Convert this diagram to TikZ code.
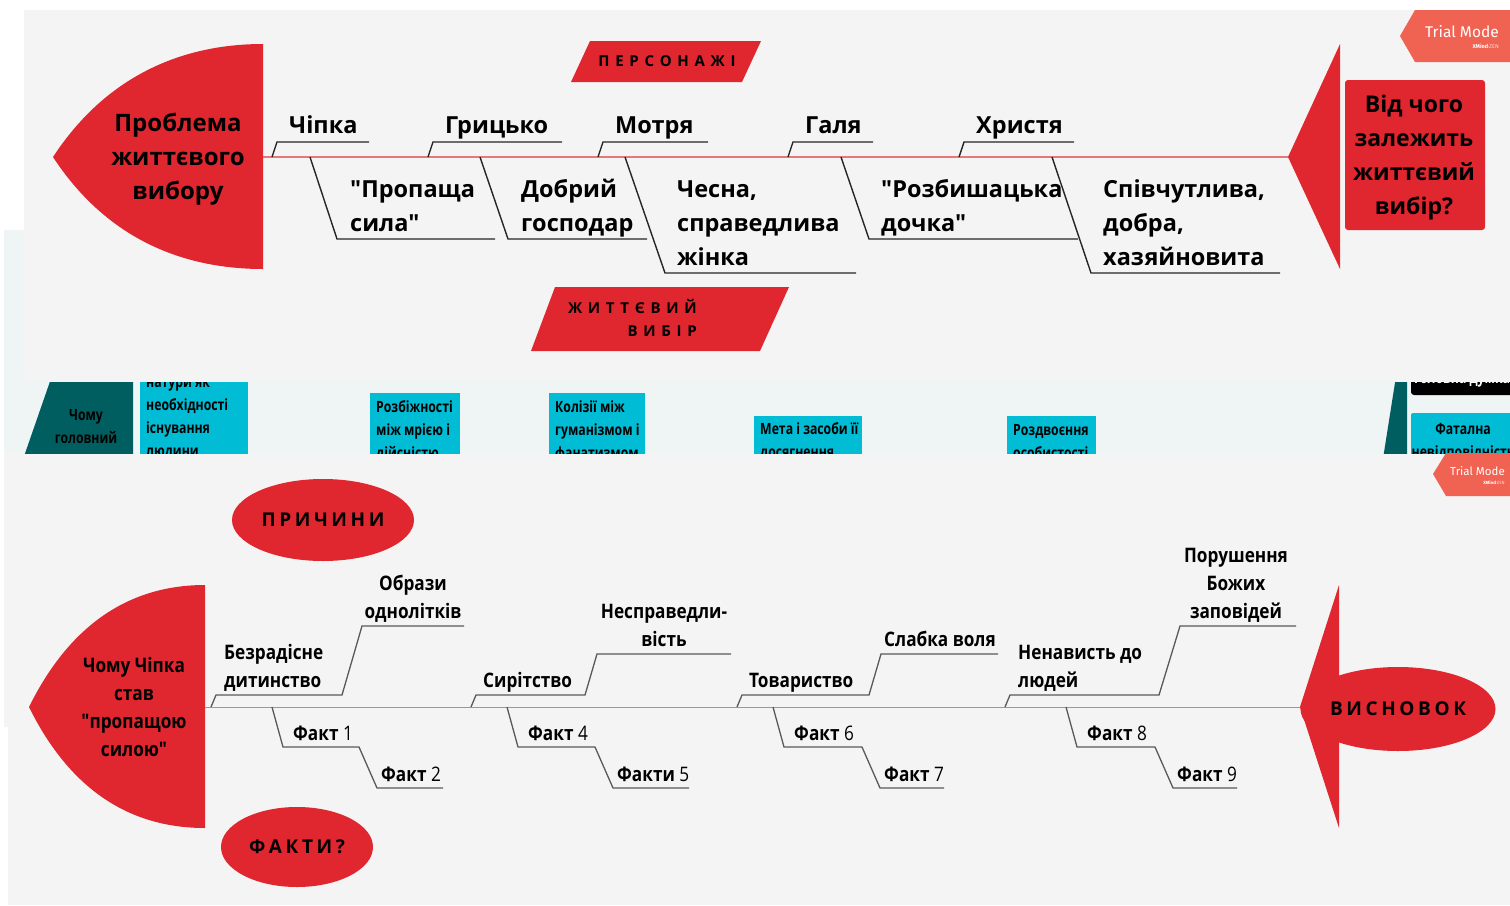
\documentclass[tikz,border=0pt]{standalone}
\usepackage{fontspec}
\setmainfont{Open Sans}[Ligatures=TeXOff]
\newfontfamily\condfont[FakeStretch=0.86]{Open Sans}
\newfontfamily\narrowfont[FakeStretch=0.79]{Open Sans}
\newfontfamily\trialfont{Fira Sans}
\usetikzlibrary{shapes.geometric}
\definecolor{fishred}{RGB}{224,38,46}
\definecolor{spinered}{RGB}{232,120,120}
\definecolor{panelgray}{RGB}{244,244,244}
\definecolor{panelblue}{RGB}{239,244,244}
\definecolor{tealdark}{RGB}{0,94,96}
\definecolor{topiccyan}{RGB}{0,188,212}
\definecolor{trialcoral}{RGB}{240,98,82}
\tikzset{headtxt/.style={font=\bfseries\fontsize{24}{34}\selectfont, align=center, inner sep=0},
         lbl/.style={font=\bfseries\fontsize{23.5}{34}\selectfont, align=left, inner sep=0, anchor=base west},
         blbl/.style={font=\condfont\bfseries\fontsize{20}{28}\selectfont, align=left, inner sep=0, anchor=base west},
         mid/.style={font=\narrowfont\bfseries\fontsize{15.5}{23}\selectfont, align=left, inner sep=0, anchor=west},
         spine/.style={draw=spinered, line width=1.6pt},
         bone/.style={draw=black!85, line width=1.4pt},
         fbone/.style={draw=black!65, line width=1.3pt},
         banner/.style={font=\bfseries\fontsize{15}{23}\selectfont\setlength{\spaceskip}{5.7pt}, align=right, inner sep=0, anchor=east},
         ell/.style={ellipse, fill=fishred, inner sep=0},
         elltxt/.style={font=\bfseries\fontsize{19}{20}\selectfont\setlength{\spaceskip}{3.6pt}},
         trialtxt/.style={text=white, inner sep=0, anchor=east}}
\begin{document}
\begin{tikzpicture}[x=1pt,y=-1pt]
\useasboundingbox (0,0) rectangle (1510,905);
% panels
\fill[white] (0,0) rectangle (1510,905);
\fill[panelblue] (4,230) rectangle (1510,453);
\fill[panelgray] (24,10) rectangle (1510,382);
\fill[panelgray] (4,453) rectangle (1510,727);
\fill[panelgray] (8,727) rectangle (1510,905);

% cut strip of the second map
\begin{scope}
\clip (4,382) rectangle (1510,453);
\fill[tealdark] (54,370) -- (133,370) -- (133,465) -- (21,465) -- cycle;
\node[mid, anchor=center, align=center] (why) at (86,427) {Чому\\головний};
\fill[topiccyan] (140,360) rectangle (248,470);
\node[mid] (nat) at (146,419) {натури як\\необхідності\\існування\\людини};
\fill[topiccyan] (370,393) rectangle (460,470);
\node[mid] (rozb) at (376,431) {Розбіжності\\між мрією і\\дійсністю};
\fill[topiccyan] (549,393) rectangle (645,470);
\node[mid] (kol) at (555,431) {Колізії між\\гуманізмом і\\фанатизмом};
\fill[topiccyan] (754,416) rectangle (862,470);
\node[mid] (meta) at (760,442) {Мета і засоби її\\досягнення};
\fill[topiccyan] (1007,416) rectangle (1096,470);
\node[mid] (rozd) at (1013,442) {Роздвоєння\\особистості};
\fill[tealdark] (1397,370) -- (1407,370) -- (1407,465) -- (1382,465) -- cycle;
\fill[black, rounded corners=3pt] (1411,350) rectangle (1530,395);
\node[mid, text=white, anchor=center] (dumka) at (1462,380) {Головна думка};
\fill[topiccyan, rounded corners=2pt] (1411,413) rectangle (1530,470);
\node[mid, anchor=center, align=center] (fat) at (1463,442) {Фатална\\невідповідність};
\end{scope}

% upper fishbone
\fill[fishred] (263,44) -- (263,269) .. controls (190,269) and (110,244) .. (53,157)
  .. controls (110,70) and (190,44) .. (263,44) -- cycle;
\node[headtxt] (prob) at (178,159) {Проблема\\життєвого\\вибору};
\coordinate (head) at (263,157);
\coordinate (tail) at (1288,157);
\draw[spine] (head) -- (tail);
\fill[fishred] (tail) -- (1340,44) -- (1340,269) -- cycle;
\node[fill=fishred, rounded corners=3pt, minimum width=140, minimum height=150] (vid) at (1415,155) {};
\node[headtxt, font=\bfseries\fontsize{23}{34}\selectfont] (vidtxt) at (1414,158) {Від чого\\залежить\\життєвий\\вибір?};

\fill[fishred] (590,41) -- (761,41) -- (742,82) -- (571,82) -- cycle;
\node[banner, anchor=center] (pers) at (667,61) {П Е Р С О Н А Ж І};
\fill[fishred] (555,287) -- (789,287) -- (760,351) -- (531,351) -- cycle;
\node[banner] (vybir) at (697,318) {Ж И Т Т Є В И Й\\В И Б І Р};

\foreach \x/\e/\name [count=\i] in {272/369/Чіпка, 428/562/Грицько, 598/708/Мотря, 788/873/Галя, 959/1074/Христя}{
  \coordinate (up\i) at (\x,157);
  \draw[bone] (up\i) -- ++(5,-15) -- (\e,142);
  \node[lbl] (name\i) at (\x+17,133) {\name};
}
\coordinate (lo1) at (310,157);
\draw[bone] (lo1) -- (337,239) -- (495,239);
\node[lbl] (propsh) at (350,231) {"Пропаща\\сила"};
\coordinate (lo2) at (480,157);
\draw[bone] (lo2) -- (508,239) -- (647,239);
\node[lbl] (gosp) at (521,231) {Добрий\\господар};
\coordinate (lo3) at (625,157);
\draw[bone] (lo3) -- (665,273) -- (856,273);
\node[lbl] (chesna) at (677,265) {Чесна,\\справедлива\\жінка};
\coordinate (lo4) at (841,157);
\draw[bone] (lo4) -- (869,239) -- (1078,239);
\node[lbl] (dochka) at (881,231) {"Розбишацька\\дочка"};
\coordinate (lo5) at (1052,157);
\draw[bone] (lo5) -- (1091,273) -- (1280,273);
\node[lbl] (dobra) at (1103,265) {Співчутлива,\\добра,\\хазяйновита};

% trial badges
\fill[trialcoral] (1400,36) -- (1415,10) -- (1510,10) -- (1510,62) -- (1415,62) -- cycle;
\node[trialtxt, font=\trialfont\fontsize{15.5}{17}\selectfont] (tm1) at (1499,32) {Trial Mode};
\node[trialtxt, font=\trialfont\fontsize{5.5}{6}\selectfont] (zen1) at (1499,46) {\textbf{XMind}\textcolor{white!75!trialcoral}{·ZEN}};
\fill[trialcoral] (1433,474) -- (1446,453) -- (1510,453) -- (1510,496) -- (1446,496) -- cycle;
\node[trialtxt, font=\trialfont\fontsize{11.5}{13}\selectfont] (tm2) at (1505,471) {Trial Mode};
\node[trialtxt, font=\trialfont\fontsize{4.5}{5}\selectfont] (zen2) at (1505,483) {\textbf{XMind}\textcolor{white!75!trialcoral}{·ZEN}};

% lower fishbone
\fill[fishred] (205,585) -- (205,828) .. controls (130,828) and (70,790) .. (29,707)
  .. controls (70,624) and (130,585) .. (205,585) -- cycle;
\node[blbl, anchor=center, align=center] (chomu) at (134,707) {Чому Чіпка\\став\\"пропащою\\силою"};
\coordinate (bhead) at (205,707);
\coordinate (btail) at (1300,707);
\draw[draw=spinered, line width=1pt] (bhead) -- (btail);
\fill[fishred] (btail) -- (1339,585) -- (1339,828) -- cycle;
\node[ell, minimum width=195, minimum height=84, label={[elltxt]center:В И С Н О В О К}] (visn) at (1398,709) {};
\node[ell, minimum width=182, minimum height=82, label={[elltxt]center:П Р И Ч И Н И}] (prich) at (323,520) {};
\node[ell, minimum width=152, minimum height=80, label={[elltxt]center:Ф А К Т И ?}] (fakty) at (297,847) {};

\coordinate (c1) at (211,707);
\draw[fbone] (c1) -- ++(5,-12) -- (342,695) -- (362,626) -- (464,626);
\node[blbl] (bezr) at (224,687) {Безрадісне\\дитинство};
\node[blbl, anchor=base, align=center] (obr) at (413,618) {Образи\\однолітків};
\coordinate (c2) at (471,707);
\draw[fbone] (c2) -- ++(5,-12) -- (585,695) -- (597,654) -- (731,654);
\node[blbl] (sir) at (483,687) {Сирітство};
\node[blbl, anchor=base, align=center] (nespr) at (664,646) {Несправедли-\\вість};
\coordinate (c3) at (737,707);
\draw[fbone] (c3) -- ++(5,-12) -- (869,695) -- (881,654) -- (998,654);
\node[blbl] (tov) at (749,687) {Товариство};
\node[blbl] (volia) at (884,646) {Слабка воля};
\coordinate (c4) at (1005,707);
\draw[fbone] (c4) -- ++(5,-12) -- (1159,695) -- (1180,626) -- (1296,626);
\node[blbl] (nenav) at (1018,687) {Ненависть до\\людей};
\node[blbl, anchor=base, align=center] (bozh) at (1236,618) {Порушення\\Божих\\заповідей};

\foreach \s/\m/\e/\ta/\tb [count=\i] in {272/359/443/{Факт {\mdseries 1}}/{Факт {\mdseries 2}},
    507/595/689/{Факт {\mdseries 4}}/{Факти {\mdseries 5}},
    773/862/944/{Факт {\mdseries 6}}/{Факт {\mdseries 7}},
    1066/1155/1237/{Факт {\mdseries 8}}/{Факт {\mdseries 9}}}{
  \coordinate (f\i) at (\s,707);
  \draw[fbone] (f\i) -- ++(11,40) -- (\m,747) -- ++(18,41) -- (\e,788);
  \node[blbl] (fa\i) at (\s+21,740) {\ta};
  \node[blbl] (fb\i) at (\m+22,781) {\tb};
}
\end{tikzpicture}
\end{document}
